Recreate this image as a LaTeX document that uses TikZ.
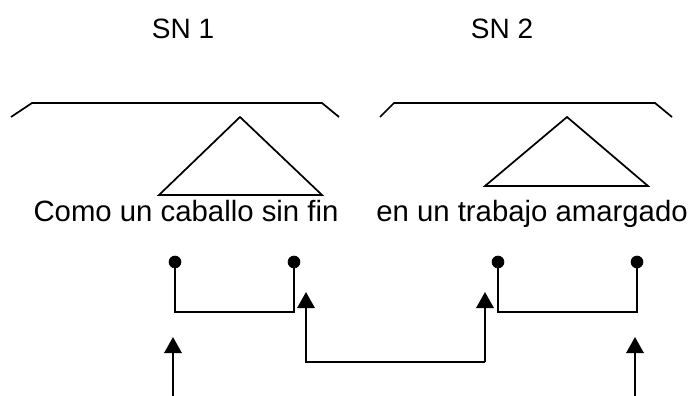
\documentclass[tikz,border=0pt]{standalone}
\usepackage{fontspec}
\setmainfont{Liberation Sans}
\usetikzlibrary{arrows.meta}
\tikzset{
  label text/.style={inner sep=0pt, anchor=base, font=\fontsize{21}{25}\selectfont},
  phrase text/.style={label text, font=\fontsize{22}{26}\selectfont},
  tree line/.style={line width=1.3pt, line join=miter},
  link line/.style={line width=1.5pt},
  up arrow/.style={line width=1.6pt, -{Triangle[length=12pt, width=13pt]}},
  dot/.style={circle, fill=black, inner sep=0pt, minimum size=9.5pt}
}
\begin{document}
\begin{tikzpicture}[x=0.75pt,y=0.75pt,yscale=-1,xscale=1]
\useasboundingbox (0,0) rectangle (693,396);

% category labels
\node[label text] (sn1) at (183,38) {SN 1};
\node[label text] (sn2) at (502,38) {SN 2};

% phrases
\node[phrase text] (ph1) at (186,221) {Como un caballo sin fin};
\node[phrase text] (ph2) at (532,221) {en un trabajo amargado};

% brackets over the phrases
\draw[tree line] (11,117) -- (32,103) -- (322,103) -- (339,117);
\draw[tree line] (380,117) -- (394,103) -- (655,103) -- (672,117);

% triangles
\draw[tree line] (240,117) -- (159,195) -- (322,195) -- cycle;
\draw[tree line] (567,117) -- (485,186) -- (648,186) -- cycle;

% dots
\node[dot] (d1) at (175,262) {};
\node[dot] (d2) at (294,262) {};
\node[dot] (d3) at (498,262) {};
\node[dot] (d4) at (637,262) {};
\coordinate (low1) at (0,312);

% links between the dots
\draw[link line] (d1.center) -- (d1.center |- low1) -- (d2.center |- low1) -- (d2.center);
\draw[link line] (d3.center) -- (d3.center |- low1) -- (d4.center |- low1) -- (d4.center);

% arrows
\coordinate (a1) at (173,396);
\coordinate (t1) at (173,337);
\coordinate (a4) at (635,396);
\coordinate (t4) at (635,337);
\coordinate (a2) at (306,362);
\coordinate (a3) at (485,362);
\coordinate (t2) at (306,292);
\coordinate (t3) at (485,292);
\draw[up arrow] (a1) -- (t1);
\draw[up arrow] (a4) -- (t4);
\draw[up arrow] (a3) -- (t3);
\draw[up arrow] (a3) -- (a2) -- (t2);
\end{tikzpicture}
\end{document}
